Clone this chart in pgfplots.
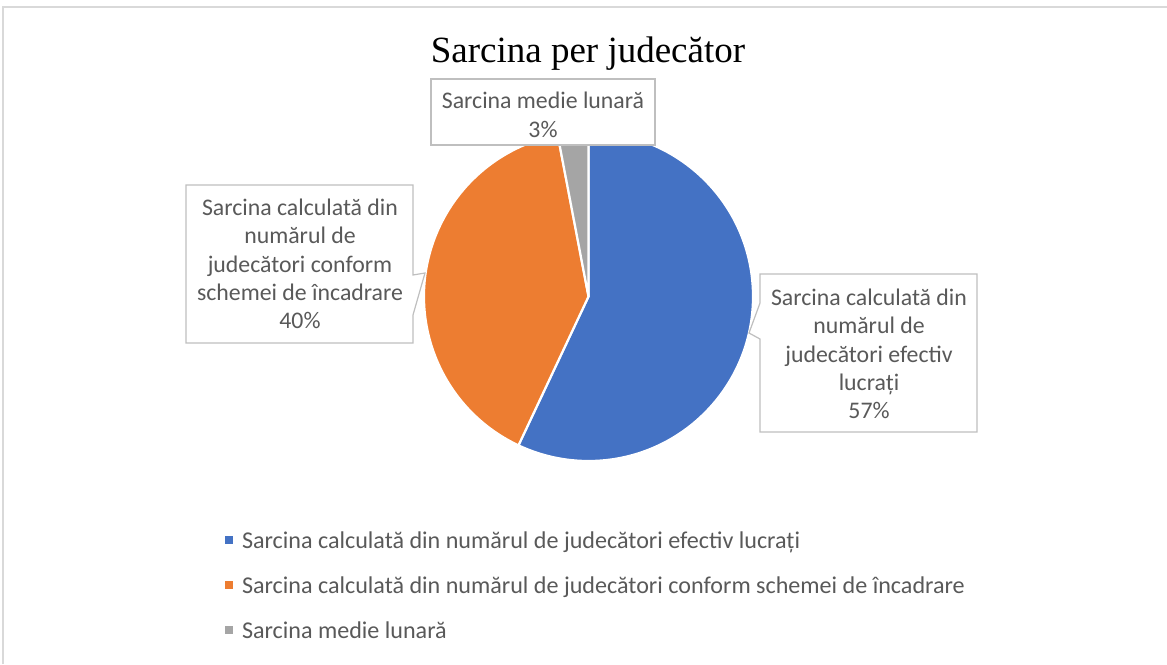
\documentclass[border=0pt]{standalone}
\usepackage{fontspec}
\setmainfont{Carlito}
\newfontfamily\titlefont{Liberation Serif}
\usepackage{pgfplots}
\usepackage{pgfplotstable}
\pgfplotsset{compat=1.18}

\definecolor{cblue}{HTML}{4472C4}
\definecolor{corange}{HTML}{ED7D31}
\definecolor{cgray}{HTML}{A5A5A5}
\definecolor{ctext}{HTML}{595959}
\definecolor{cbox}{HTML}{BFBFBF}
\definecolor{cframe}{HTML}{D9D9D9}

\pgfplotstableread[col sep=comma]{
label,value
efectiv,57
schema,40
medie,3
}\piedata

\pgfplotstablegetelem{0}{value}\of\piedata\edef\vA{\pgfplotsretval}
\pgfplotstablegetelem{1}{value}\of\piedata\edef\vB{\pgfplotsretval}
\pgfplotstablegetelem{2}{value}\of\piedata\edef\vC{\pgfplotsretval}
\pgfmathsetmacro\aA{90-3.6*\vA}
\pgfmathsetmacro\aB{\aA-3.6*\vB}
\pgfmathsetmacro\aC{\aB-3.6*\vC}

\newcommand{\lblfont}{\fontsize{23.8}{28.4}\selectfont}
\newcommand{\legfont}{\fontsize{24.1}{28.4}\selectfont}

\begin{document}
\begin{tikzpicture}
\begin{axis}[
  width=1167pt, height=664pt, scale only axis,
  xmin=0, xmax=1167, ymin=0, ymax=664, y dir=reverse,
  hide axis, clip=false,
  legend image code/.code={\path[#1, draw=none] (0pt,-1.5pt) rectangle (8pt,6.5pt);},
  legend style={
    at={(axis cs:225,532)}, anchor=north west,
    draw=none, fill=none, inner sep=0pt, outer sep=0pt,
    font=\legfont, text=ctext,
    row sep=24pt, column sep=0pt,
    nodes={inner sep=0pt, text height=16pt, text depth=5pt},
  },
  legend cell align=left,
]
\coordinate (BL) at (axis cs:0,664);
\coordinate (TR) at (axis cs:1167,0);

\draw[cframe, line width=1.2pt] (axis cs:3,664) -- (axis cs:3,7) -- (axis cs:1167,7);

% pie slices from table values
\filldraw[fill=cblue, draw=white, line width=2.2pt, line join=round]
  (axis cs:588.5,296.5) -- ++(90:164.5pt) arc[start angle=90, end angle=\aA, radius=164.5pt] -- cycle;
\filldraw[fill=corange, draw=white, line width=2.2pt, line join=round]
  (axis cs:588.5,296.5) -- ++(\aA:164.5pt) arc[start angle=\aA, end angle=\aB, radius=164.5pt] -- cycle;
\filldraw[fill=cgray, draw=white, line width=2.2pt, line join=round]
  (axis cs:588.5,296.5) -- ++(\aB:164.5pt) arc[start angle=\aB, end angle=\aC, radius=164.5pt] -- cycle;

% title
\node[anchor=base, font=\titlefont\fontsize{37}{44}\selectfont, text=black] at (axis cs:588,62) {Sarcina per judecător};

% callouts
\draw[cbox, fill=white, line width=1.2pt] (axis cs:431,79) rectangle (axis cs:655,145);
\node[font=\lblfont, text=ctext, align=center] at (axis cs:543,115) {Sarcina medie lunară\\3\%};

\draw[cbox, fill=white, line width=1.2pt, line join=miter]
  (axis cs:186,185) -- (axis cs:413,185) -- (axis cs:413,275) -- (axis cs:425,273)
  -- (axis cs:413,315) -- (axis cs:413,343) -- (axis cs:186,343) -- cycle;
\node[font=\lblfont, text=ctext, align=center] at (axis cs:300,264)
  {Sarcina calculată din\\numărul de\\judecători conform\\schemei de încadrare\\40\%};

\draw[cbox, fill=white, line width=1.2pt, line join=miter]
  (axis cs:760,274) -- (axis cs:977,274) -- (axis cs:977,432) -- (axis cs:760,432)
  -- (axis cs:760,339) -- (axis cs:749,333) -- (axis cs:760,303) -- cycle;
\node[font=\lblfont, text=ctext, align=center] at (axis cs:869,354)
  {Sarcina calculată din\\numărul de\\judecători efectiv\\lucrați\\57\%};

% legend
\addlegendimage{fill=cblue}
\addlegendentry{\hspace{9pt}Sarcina calculată din numărul de judecători efectiv lucrați}
\addlegendimage{fill=corange}
\addlegendentry{\hspace{9pt}Sarcina calculată din numărul de judecători conform schemei de încadrare}
\addlegendimage{fill=cgray}
\addlegendentry{\hspace{9pt}Sarcina medie lunară}
\end{axis}
\pgfresetboundingbox
\useasboundingbox (BL) rectangle (TR);
\end{tikzpicture}
\end{document}
